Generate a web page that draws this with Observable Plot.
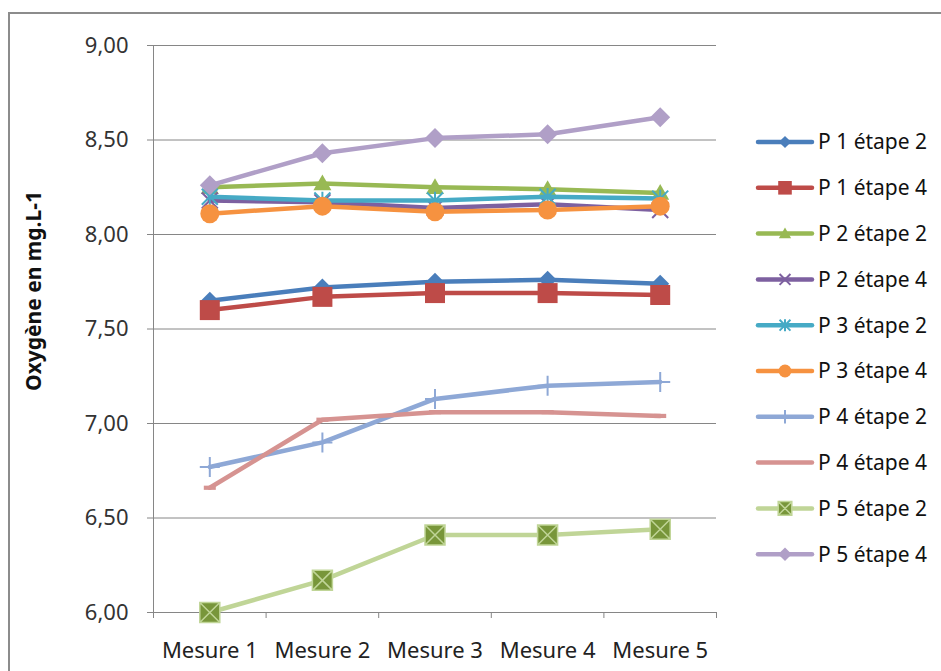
<!DOCTYPE html>
<html>
<head>
<meta charset="utf-8">
<script src="https://cdn.jsdelivr.net/npm/d3@7"></script>
<script src="https://cdn.jsdelivr.net/npm/@observablehq/plot@0.6"></script>
<style>
  html, body { margin: 0; padding: 0; background: #fff; overflow: hidden; }
  #wrap { position: relative; width: 941px; height: 671px; }
  #frame { position: absolute; left: 8px; top: 12px; width: 1000px; height: 700px;
           border: 2px solid #8c8c8c; box-sizing: border-box; }
  #chart, #legend { position: absolute; left: 0; top: 0; }
  svg text { font-family: "Noto Sans", sans-serif; }
</style>
</head>
<body>
<div id="wrap">
  <div id="frame"></div>
  <div id="chart"></div>
  <div id="legend"></div>
</div>
<script>
// Measurements (x categories)
const mesures = ["Mesure 1", "Mesure 2", "Mesure 3", "Mesure 4", "Mesure 5"];

// Dissolved oxygen, mg.L-1, per sampling point and stage
const p1Etape2 = [7.65, 7.72, 7.75, 7.76, 7.74];
const p1Etape4 = [7.60, 7.67, 7.69, 7.69, 7.68];
const p2Etape2 = [8.25, 8.27, 8.25, 8.24, 8.22];
const p2Etape4 = [8.18, 8.17, 8.14, 8.16, 8.13];
const p3Etape2 = [8.20, 8.18, 8.18, 8.20, 8.19];
const p3Etape4 = [8.11, 8.15, 8.12, 8.13, 8.15];
const p4Etape2 = [6.77, 6.90, 7.13, 7.20, 7.22];
const p4Etape4 = [6.66, 7.02, 7.06, 7.06, 7.04];
const p5Etape2 = [6.00, 6.17, 6.41, 6.41, 6.44];
const p5Etape4 = [8.26, 8.43, 8.51, 8.53, 8.62];

const seriesNames = ["P 1 étape 2", "P 1 étape 4", "P 2 étape 2", "P 2 étape 4", "P 3 étape 2",
                     "P 3 étape 4", "P 4 étape 2", "P 4 étape 4", "P 5 étape 2", "P 5 étape 4"];
const seriesValues = [p1Etape2, p1Etape4, p2Etape2, p2Etape4, p3Etape2,
                      p3Etape4, p4Etape2, p4Etape4, p5Etape2, p5Etape4];

const yTicks = [6, 6.5, 7, 7.5, 8, 8.5, 9];
const yTitle = "Oxygène en mg.L-1";

// Marker shapes; r is the half-extent of the marker
const shape = draw => ({ draw(ctx, size) { draw(ctx, Math.sqrt(size / Math.PI)); } });
const diamond = shape((c, r) => { c.moveTo(0, -r); c.lineTo(r, 0); c.lineTo(0, r); c.lineTo(-r, 0); c.closePath(); });
const square = shape((c, r) => { c.moveTo(-r, -r); c.lineTo(r, -r); c.lineTo(r, r); c.lineTo(-r, r); c.closePath(); });
const triangle = shape((c, r) => { c.moveTo(0, -r); c.lineTo(r, r * 0.75); c.lineTo(-r, r * 0.75); c.closePath(); });
const times = shape((c, r) => { c.moveTo(-r, -r); c.lineTo(r, r); c.moveTo(r, -r); c.lineTo(-r, r); });
const star = shape((c, r) => { c.moveTo(-r, -r); c.lineTo(r, r); c.moveTo(r, -r); c.lineTo(-r, r); c.moveTo(0, -r * 1.1); c.lineTo(0, r * 1.1); });
const circle = shape((c, r) => { c.moveTo(r, 0); c.arc(0, 0, r, 0, 2 * Math.PI); c.closePath(); });
const plus = shape((c, r) => { c.moveTo(-r, 0); c.lineTo(r, 0); c.moveTo(0, -r); c.lineTo(0, r); });
const dash = shape((c, r) => { c.moveTo(-r, -r * 0.35); c.lineTo(r, -r * 0.35); c.lineTo(r, r * 0.35); c.lineTo(-r, r * 0.35); c.closePath(); });
const boxX = shape((c, r) => { c.moveTo(-r, -r); c.lineTo(r, -r); c.lineTo(r, r); c.lineTo(-r, r); c.closePath();
                               c.moveTo(-r, -r); c.lineTo(r, r); c.moveTo(r, -r); c.lineTo(-r, r); });

// Line colour and marker style of each series
const styles = [
  { line: "#4a7ebb", symbol: diamond, r: 9, fill: "#4a7ebb", stroke: "none" },
  { line: "#be4b48", symbol: square, r: 10, fill: "#be4b48", stroke: "none" },
  { line: "#98b954", symbol: triangle, r: 9, fill: "#98b954", stroke: "none" },
  { line: "#7d60a0", symbol: times, r: 8, fill: "none", stroke: "#7d60a0", sw: 2 },
  { line: "#46aac5", symbol: star, r: 8, fill: "none", stroke: "#46aac5", sw: 2 },
  { line: "#f69240", symbol: circle, r: 9.5, fill: "#f69240", stroke: "none" },
  { line: "#8ea8d6", symbol: plus, r: 10, fill: "none", stroke: "#8ea8d6", sw: 2 },
  { line: "#d69391", symbol: dash, r: 6, fill: "#d69391", stroke: "none" },
  { line: "#c0d597", symbol: boxX, r: 10, fill: "#78963a", stroke: "#c0d597", sw: 1.5 },
  { line: "#b09fc7", symbol: diamond, r: 10, fill: "#b09fc7", stroke: "none" }
];

const rows = seriesNames.map((name, s) =>
  seriesValues[s].map((v, i) => ({ serie: name, s, x: i + 1, mesure: mesures[i], value: v }))
);

const fmt = d => d.toFixed(2).replace(".", ",");
const grey = "#868686";

const seriesMarks = rows.flatMap((data, s) => {
  const st = styles[s];
  return [
    Plot.line(data, { x: "x", y: "value", stroke: st.line, strokeWidth: 4.5,
                      strokeLinejoin: "round", strokeLinecap: "round" }),
    Plot.dot(data, { x: "x", y: "value", symbol: st.symbol, r: st.r,
                     fill: st.fill, stroke: st.stroke, strokeWidth: st.sw || 0 })
  ];
});

const chart = Plot.plot({
  width: 941,
  height: 671,
  marginLeft: 153,
  marginRight: 225,
  marginTop: 45,
  marginBottom: 59,
  style: { fontFamily: "Noto Sans, sans-serif", background: "transparent", overflow: "visible" },
  x: { type: "linear", domain: [0.5, 5.5] },
  y: { domain: [6, 9] },
  marks: [
    Plot.gridY(yTicks, { stroke: grey, strokeOpacity: 1, strokeWidth: 1 }),
    Plot.axisY(yTicks, { tickSize: 6, tickFormat: () => "", stroke: grey, strokeOpacity: 1, label: null }),
    Plot.axisY(yTicks, { tickSize: 0, tickPadding: 25, tickFormat: fmt, fill: "#333",
                         fontSize: 22, label: null }),
    Plot.axisX([0.5, 1.5, 2.5, 3.5, 4.5, 5.5], { tickSize: 6, tickFormat: () => "", stroke: grey,
                                                 strokeOpacity: 1, label: null }),
    Plot.axisX([1, 2, 3, 4, 5], { tickSize: 0, tickPadding: 30, tickFormat: i => mesures[i - 1],
                                  fill: "#222", fontSize: 22, label: null }),
    Plot.ruleX([0.5], { stroke: grey, strokeWidth: 1 }),
    Plot.ruleY([6], { stroke: grey, strokeWidth: 1 }),
    ...seriesMarks,
    Plot.text([yTitle], { frameAnchor: "left", textAnchor: "middle", dx: -119, dy: -38, rotate: -90,
                          text: d => d, fontSize: 21, fontWeight: "bold", fill: "#111" })
  ]
});
document.getElementById("chart").append(chart);

// Legend on the right
const legend = d3.create("svg").attr("width", 941).attr("height", 671);
seriesNames.forEach((name, s) => {
  const st = styles[s];
  const cy = 142 + s * 45.8;
  const g = legend.append("g").attr("transform", `translate(0,${cy})`);
  g.append("line").attr("x1", 758).attr("x2", 812).attr("y1", 0).attr("y2", 0)
    .attr("stroke", st.line).attr("stroke-width", 4.5).attr("stroke-linecap", "round");
  if (st.symbol !== dash) {
    const rr = st.r * 0.68;
    g.append("path")
      .attr("transform", "translate(785,0)")
      .attr("d", d3.symbol(st.symbol, Math.PI * rr * rr)())
      .attr("fill", st.fill).attr("stroke", st.stroke).attr("stroke-width", st.sw || 0);
  }
  g.append("text").attr("x", 818).attr("y", 0).attr("dy", "0.35em")
    .attr("font-size", 21).attr("fill", "#111").text(name);
});
document.getElementById("legend").append(legend.node());
</script>
</body>
</html>
